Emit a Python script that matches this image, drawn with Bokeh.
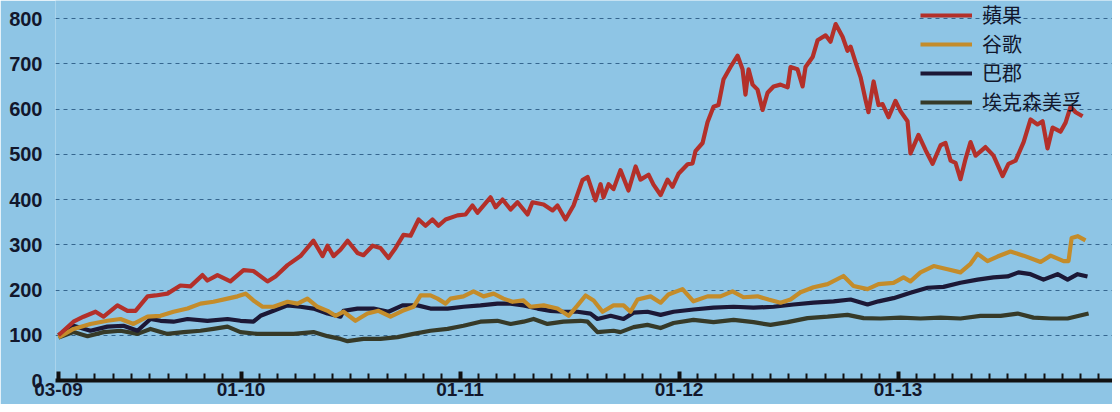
from bokeh.plotting import figure
from bokeh.models import Range1d, FixedTicker, Legend, LegendItem
from bokeh.embed import file_html
from bokeh.resources import INLINE

# months since 2009-03
apple_m = [0, 0.82, 1.37, 2.03, 2.47, 3.23, 3.78, 4.22, 4.88, 5.32, 5.97, 6.68, 7.23, 7.89, 8.16, 8.71,
           9.42, 10.14, 10.68, 11.45, 11.89, 12.55, 13.26, 13.97, 14.47, 14.74, 15.07, 15.45, 15.84,
           16.38, 16.71, 17.21, 17.64, 18.08, 18.47, 18.9, 19.29, 19.73, 20.11, 20.49, 20.82, 21.21,
           21.86, 22.3, 22.68, 22.96, 23.67, 23.95, 24.33, 24.77, 25.15, 25.7, 25.97, 26.58, 27.07,
           27.34, 27.78, 28.22, 28.71, 28.99, 29.42, 29.7, 29.86, 30.14, 30.41, 30.79, 31.23, 31.62,
           31.89, 32.33, 32.6, 32.99, 33.37, 33.64, 33.97, 34.47, 34.74, 34.9, 35.29, 35.56, 35.89,
           36.16, 36.44, 36.82, 37.21, 37.48, 37.64, 37.81, 38.03, 38.3, 38.58, 38.85, 39.18, 39.56,
           39.95, 40.11, 40.49, 40.77, 40.93, 41.32, 41.59, 42.03, 42.3, 42.58, 42.96, 43.23, 43.4,
           43.67, 43.95, 44.22, 44.38, 44.66, 44.93, 45.15, 45.48, 45.86, 46.14, 46.52, 46.68, 47.12,
           47.51, 47.89, 48.33, 48.6, 48.88, 49.15, 49.42, 49.7, 49.97, 50.25, 50.79, 51.23, 51.73,
           52.05, 52.44, 52.88, 53.26, 53.64, 53.92, 54.19, 54.47, 54.9, 55.18, 55.45, 55.73, 56.11]
apple_v = [100, 130, 141, 152, 141, 166, 154, 154, 186, 188, 192, 210, 208, 233, 221, 233,
           219, 244, 242, 219, 230, 255, 275, 309, 275, 298, 275, 289, 309,
           282, 277, 298, 293, 271, 293, 322, 320, 356, 342, 356, 342, 356,
           365, 367, 387, 371, 405, 383, 400, 378, 394, 367, 394, 389, 376,
           387, 356, 387, 443, 450, 398, 434, 405, 434, 423, 465, 420, 473,
           444, 455, 433, 410, 444, 428, 457, 478, 480, 507, 525, 571, 605,
           609, 666, 693, 718, 688, 632, 688, 654, 643, 598, 636, 650, 654,
           648, 693, 688, 650, 693, 715, 752, 763, 749, 788, 760, 729, 738,
           704, 670, 620, 593, 661, 609, 611, 582, 618, 595, 573, 502, 543,
           509, 479, 520, 525, 486, 481, 445, 490, 527, 497, 516, 497, 452,
           479, 486, 527, 577, 566, 573, 513, 559, 550, 570, 605, 593, 584]

google_m = [0, 0.82, 1.75, 2.68, 3.4, 4.11, 4.88, 5.59, 6.3, 7.07, 7.78, 8.49, 9.26, 9.81, 10.25,
            10.68, 11.18, 11.78, 12.55, 13.1, 13.64, 14.19, 14.74, 15.18, 15.62, 16.27, 16.93, 17.53,
            18.19, 18.85, 19.45, 19.84, 20.38, 20.77, 21.21, 21.48, 22.19, 22.74, 23.29, 23.84, 24.38,
            24.88, 25.48, 25.86, 26.58, 27.34, 27.95, 28.44, 28.88, 29.32, 29.81, 30.41, 30.96, 31.34,
            31.73, 32.44, 32.99, 33.42, 34.19, 34.79, 35.56, 36.27, 36.93, 37.53, 38.3, 38.9, 39.56,
            40.11, 40.66, 41.37, 42.14, 43.01, 43.56, 44.33, 44.93, 45.75, 46.3, 46.68, 47.23, 47.95,
            48.71, 49.42, 49.97, 50.36, 50.9, 51.45, 52.16, 52.88, 53.81, 54.36, 55.07, 55.34, 55.51,
            55.84, 56.27]
google_v = [95, 114, 125, 132, 136, 125, 141, 143, 152, 159, 170, 174, 181, 186, 192,
            177, 163, 163, 174, 170, 181, 163, 154, 143, 152, 132, 148, 154,
            141, 154, 163, 188, 188, 181, 170, 181, 186, 197, 186, 192, 181,
            174, 177, 163, 166, 159, 143, 166, 188, 177, 152, 166, 166, 152,
            179, 186, 172, 190, 202, 175, 186, 186, 197, 184, 186, 179, 172,
            179, 195, 206, 213, 231, 209, 202, 213, 216, 228, 219, 239, 253,
            246, 239, 258, 280, 264, 274, 285, 276, 262, 276, 264, 264, 315,
            319, 310]

berk_m = [0, 0.82, 1.75, 2.68, 3.56, 4.33, 5.04, 5.59, 6.3, 7.07, 8.16, 9.26, 9.97, 10.68, 11.07,
          11.78, 12.55, 13.26, 13.97, 14.74, 15.45, 15.62, 16.38, 17.26, 18.08, 18.85, 19.67, 20.38,
          21.32, 22.19, 23.12, 24.05, 24.77, 25.48, 26.25, 26.96, 27.67, 28.44, 29.15, 29.53, 30.25,
          30.96, 31.51, 32.27, 32.99, 33.7, 34.79, 35.89, 36.99, 38.08, 39.18, 40.27, 41.37, 42.47,
          43.4, 44.33, 44.93, 45.75, 46.68, 47.62, 48.49, 49.42, 50.36, 51.23, 52.0, 52.6, 53.26,
          53.97, 54.74, 55.29, 55.84, 56.38]
berk_v = [100, 121, 110, 119, 121, 110, 136, 132, 130, 136, 132, 136, 132, 130, 143,
          154, 166, 163, 159, 148, 141, 154, 159, 159, 152, 166, 166, 159,
          159, 163, 166, 170, 170, 166, 159, 154, 152, 152, 148, 136, 143,
          136, 150, 152, 145, 152, 157, 161, 163, 161, 163, 168, 172, 175,
          179, 168, 175, 182, 194, 205, 207, 216, 223, 228, 230, 239, 235,
          223, 235, 223, 235, 230]

exxon_m = [0, 0.82, 1.59, 2.47, 3.4, 4.33, 5.04, 5.97, 6.85, 7.78, 8.49, 9.26, 9.97, 10.9, 11.78,
           12.88, 13.97, 14.74, 15.45, 15.84, 16.71, 17.64, 18.58, 19.45, 20.38, 21.32, 22.19, 23.12,
           24.05, 24.77, 25.48, 26.03, 26.79, 27.67, 28.6, 28.99, 29.53, 30.41, 30.79, 31.51, 32.27,
           32.99, 33.7, 34.79, 35.89, 36.99, 38.08, 39.01, 39.95, 41.04, 42.14, 43.23, 44.11, 45.04,
           46.14, 47.23, 48.33, 49.42, 50.52, 51.62, 52.55, 53.42, 54.36, 55.29, 56.44]
exxon_v = [95, 107, 98, 107, 110, 103, 114, 103, 107, 110, 114, 119, 107, 103, 103,
           103, 107, 98, 92, 87, 92, 92, 96, 103, 110, 114, 121, 130,
           132, 125, 130, 136, 125, 130, 132, 130, 107, 110, 107, 118, 123,
           116, 127, 134, 129, 134, 129, 123, 129, 138, 141, 145, 138, 137,
           139, 137, 139, 137, 143, 143, 148, 139, 137, 137, 148]

names = ["蘋果", "谷歌", "巴郡", "埃克森美孚"]
colors = ["#b3302a", "#c48c2a", "#1c1836", "#363a28"]

tick_pos = [0, 10, 22, 34, 46]
tick_labels = ["03-09", "01-10", "01-11", "01-12", "01-13"]
y_ticks = [0, 100, 200, 300, 400, 500, 600, 700, 800]

BG = "#8ec5e5"
TXT = "#12172c"

p = figure(width=1112, height=404, output_backend="svg", toolbar_location=None,
           x_range=Range1d(-0.164, 57.75), y_range=Range1d(0, 840),
           min_border_left=55, min_border_right=0, min_border_top=0, min_border_bottom=24)
p.background_fill_color = BG
p.border_fill_color = BG
p.outline_line_color = None

p.xgrid.grid_line_color = None
p.ygrid.grid_line_color = "#35668f"
p.ygrid.grid_line_dash = "4 4"
p.ygrid.grid_line_width = 1
p.ygrid.ticker = FixedTicker(ticks=y_ticks[1:])

xa = p.xaxis[0]
xa.ticker = FixedTicker(ticks=tick_pos, minor_ticks=list(range(0, 58)))
xa.major_label_overrides = {t: l for t, l in zip(tick_pos, tick_labels)}
xa.axis_line_color = "#111111"
xa.axis_line_width = 4
xa.major_tick_in = 9
xa.major_tick_out = 0
xa.major_tick_line_width = 4
xa.major_tick_line_color = "#111111"
xa.minor_tick_in = 7
xa.minor_tick_out = 0
xa.minor_tick_line_width = 2
xa.minor_tick_line_color = "#111111"
xa.major_label_standoff = 2
xa.major_label_text_font = "Liberation Sans"
xa.major_label_text_font_style = "bold"
xa.major_label_text_font_size = "19px"
xa.major_label_text_color = TXT

ya = p.yaxis[0]
ya.ticker = FixedTicker(ticks=y_ticks)
ya.axis_line_color = None
ya.major_tick_line_color = None
ya.minor_tick_line_color = None
ya.major_label_standoff = 7
ya.major_label_text_font = "Liberation Sans"
ya.major_label_text_font_style = "bold"
ya.major_label_text_font_size = "20px"
ya.major_label_text_color = TXT

series = [(apple_m, apple_v), (google_m, google_v), (berk_m, berk_v), (exxon_m, exxon_v)]
renderers = []
for (xs, ys), c in zip(series, colors):
    r = p.line(xs, ys, line_color=c, line_width=4.2, line_join="round")
    renderers.append(r)
# draw order: exxon bottom, apple on top
p.renderers = [renderers[3], renderers[2], renderers[1], renderers[0]]

legend = Legend(items=[LegendItem(label=n, renderers=[r]) for n, r in zip(names, renderers)],
                location="top_right", orientation="vertical",
                background_fill_alpha=0, border_line_color=None,
                label_text_font="Liberation Sans, Noto Sans CJK SC", label_text_font_size="20px",
                label_text_color=TXT, glyph_width=52, glyph_height=20, label_height=20,
                label_width=130, label_standoff=10, spacing=-6, padding=0, margin=0)
p.add_layout(legend)

open("out.html", "w").write(file_html(p, INLINE))
